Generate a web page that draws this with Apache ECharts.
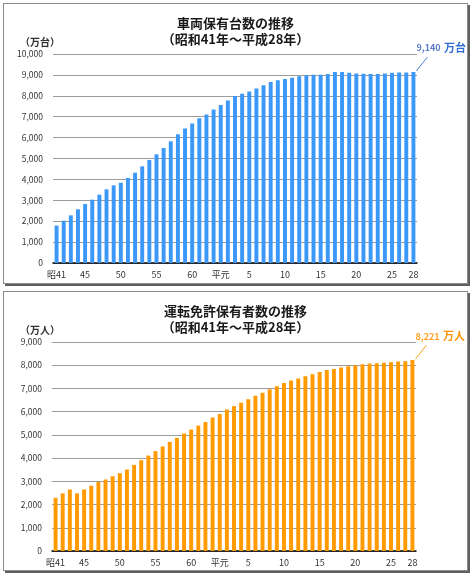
<!DOCTYPE html>
<html>
<head>
<meta charset="utf-8">
<script src="https://cdn.jsdelivr.net/npm/echarts@6/dist/echarts.min.js"></script>
<style>
    body { margin: 0; background: #fff; }
    .panel { position: absolute; left: 3px; width: 465px; box-sizing: border-box;
             border: 1px solid #8c8c8c; box-shadow: 2px 2px 0 #5e5e5e; background: #fff; }
    #main  { top: 3px;   height: 281px; }
    #main1 { top: 291px; height: 280px; }
</style>
</head>
<body>
<div id="main" class="panel"></div>
<div id="main1" class="panel"></div>
<script>
// 昭和41年 ～ 平成28年
var years = ['昭41','42','43','44','45','46','47','48','49','50',
    '51','52','53','54','55','56','57','58','59','60',
    '61','62','63','平元','2','3','4','5','6','7',
    '8','9','10','11','12','13','14','15','16','17',
    '18','19','20','21','22','23','24','25','26','27','28'];
var xLabels = ['昭41','45','50','55','60','平元','5','10','15','20','25','28'];

// 車両保有台数（万台）
var vehicles = [1790, 2025, 2280, 2570, 2820, 3030, 3270, 3525, 3715, 3840,
    4070, 4320, 4625, 4930, 5200, 5500, 5820, 6155, 6430, 6680,
    6920, 7100, 7340, 7560, 7780, 7990, 8100, 8210, 8350, 8500,
    8660, 8750, 8800, 8860, 8930, 8980, 9010, 9010, 9040, 9140,
    9140, 9100, 9070, 9060, 9040, 9040, 9070, 9100, 9120, 9120, 9140];

// 運転免許保有者数（万人）
var licenses = [2290, 2480, 2650, 2480, 2650, 2810, 2970, 3080, 3220, 3350,
    3510, 3710, 3910, 4110, 4300, 4500, 4700, 4870, 5060, 5230,
    5400, 5560, 5750, 5900, 6090, 6240, 6380, 6540, 6690, 6810,
    6960, 7090, 7230, 7340, 7430, 7530, 7610, 7710, 7790, 7840,
    7900, 7960, 8000, 8040, 8070, 8090, 8110, 8130, 8160, 8170, 8221];

var jp = '"Noto Sans CJK JP", sans-serif';

function build(id, cfg) {
    var chart = echarts.init(document.getElementById(id));
    chart.setOption({
        animation: false,
        title: {
            text: cfg.title,
            left: 'center',
            top: 6,
            textStyle: { fontSize: 13, fontWeight: 'bold', color: '#1a1a1a', lineHeight: 16, fontFamily: jp }
        },
        grid: { left: cfg.left, right: cfg.right, top: 50, height: 209 },
        xAxis: {
            type: 'category',
            data: years,
            axisTick: { show: false },
            axisLine: { lineStyle: { color: '#000', width: 1.5 } },
            axisLabel: {
                interval: function (i, v) { return xLabels.indexOf(v) >= 0; },
                fontSize: 9, color: '#333', margin: 7, fontFamily: jp
            }
        },
        yAxis: {
            type: 'value',
            min: 0,
            max: cfg.max,
            interval: 1000,
            axisLabel: {
                formatter: function (v) { return v.toLocaleString('en-US'); },
                fontSize: 8.5, color: '#333', margin: 10, fontFamily: jp
            },
            splitLine: { lineStyle: { color: '#9c9c9c' } }
        },
        series: [{
            type: 'bar',
            data: cfg.data,
            barWidth: '55%',
            itemStyle: { color: cfg.color }
        }]
    });

    // 最新値の引き出し線とラベル
    var last = cfg.data.length - 1;
    var p = chart.convertToPixel({ seriesIndex: 0 }, [last, cfg.data[last]]);
    chart.setOption({
        graphic: [
            {
                type: 'text', x: 16, y: 38,
                style: { text: cfg.unitLabel, fontSize: 10, fontWeight: 'bold', fill: '#333',
                         verticalAlign: 'middle', fontFamily: jp }
            },
            {
                type: 'line',
                shape: { x1: p[0] + 3, y1: p[1] - 1, x2: p[0] + 14, y2: p[1] - 15 },
                style: { stroke: cfg.lineColor, lineWidth: 1 }
            },
            {
                type: 'text', x: p[0] + 3, y: p[1] - 24,
                style: {
                    text: '{a|' + cfg.data[last].toLocaleString('en-US') + '} {b|' + cfg.unit + '}',
                    verticalAlign: 'middle',
                    rich: {
                        a: { fontSize: 9, fontWeight: 'bold', fill: cfg.valueColor, fontFamily: jp },
                        b: { fontSize: 11, fontWeight: 'bold', fill: cfg.unitColor, fontFamily: jp }
                    }
                }
            }
        ]
    });
}

build('main', {
    title: '車両保有台数の推移\n（昭和41年～平成28年）',
    unitLabel: '（万台）',
    unit: '万台',
    max: 10000,
    data: vehicles,
    left: 49, right: 50,
    color: '#3b98f7',
    lineColor: '#4a7fd6',
    valueColor: '#5b7ccc',
    unitColor: '#2f6fd6'
});

build('main1', {
    title: '運転免許保有者数の推移\n（昭和41年～平成28年）',
    unitLabel: '（万人）',
    unit: '万人',
    max: 9000,
    data: licenses,
    left: 48, right: 51,
    color: '#ff9b00',
    lineColor: '#ffa020',
    valueColor: '#ffa020',
    unitColor: '#ff9100'
});
</script>
</body>
</html>
